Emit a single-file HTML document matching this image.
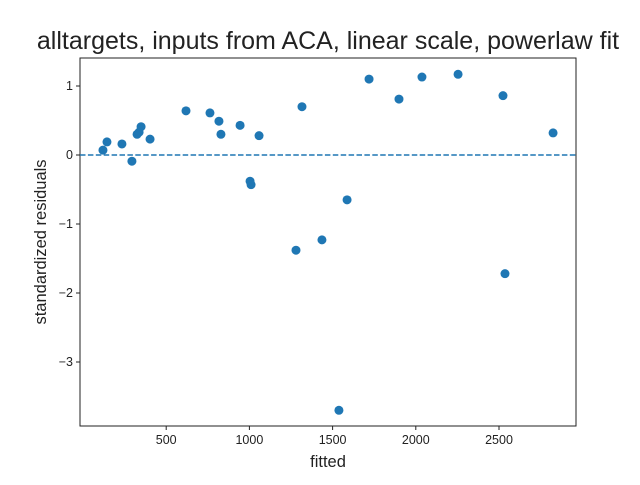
<!DOCTYPE html>
<html><head><meta charset="utf-8"><style>
body{margin:0;background:#fff}
svg text{font-family:"Liberation Sans",Arial,sans-serif}
</style></head><body>
<svg id="chart" width="640" height="480" xmlns="http://www.w3.org/2000/svg">
<text x="328" y="49" text-anchor="middle" font-size="25" fill="#222">alltargets, inputs from ACA, linear scale, powerlaw fit</text>
<g id="plot"></g>
<text x="328" y="467" text-anchor="middle" font-size="16.5" fill="#222">fitted</text>
<text transform="translate(46,242) rotate(-90)" text-anchor="middle" font-size="16.5" fill="#222">standardized residuals</text>
</svg>
<script>
const xVals=[120,144,234,294,325,337,349,403,619,763,817,829,944,1004,1010,1058,1280,1316,1436,1538,1587,1719,1899,2037,2254,2524,2536,2825];
const yVals=[0.07,0.19,0.16,-0.09,0.30,0.33,0.41,0.23,0.64,0.61,0.49,0.30,0.43,-0.38,-0.43,0.28,-1.38,0.70,-1.23,-3.70,-0.65,1.10,0.81,1.13,1.17,0.86,-1.72,0.32];
const xTicks=[500,1000,1500,2000,2500];
const yTicks=[1,0,-1,-2,-3];
const L=80,R=576,T=58,B=426;
const sx=v=>83+v*0.1664;
const sy=v=>155-v*69;
const NS="http://www.w3.org/2000/svg";
const g=document.getElementById('plot');
function mk(t,a){const e=document.createElementNS(NS,t);for(const k in a)e.setAttribute(k,a[k]);g.appendChild(e);return e;}
const f=mk('rect',{x:L,y:T,width:R-L,height:B-T,fill:'none',stroke:'#222','stroke-width':1});


const zl=mk('line',{x1:L,x2:R,y1:sy(0),y2:sy(0),stroke:'#1f77b4','stroke-width':1.5,'stroke-dasharray':'5.5,2.4'});


xTicks.forEach(v=>{
 const t=mk('line',{x1:sx(v),x2:sx(v),y1:B,y2:B+4,stroke:'#222'});
 
 
 const l=mk('text',{x:sx(v),y:B+18,'text-anchor':'middle','font-size':12.5,fill:'#222'});
 l.textContent=v;
 
 
});
yTicks.forEach(v=>{
 const t=mk('line',{x1:L-4,x2:L,y1:sy(v),y2:sy(v),stroke:'#222'});
 
 
 const l=mk('text',{x:L-7,y:sy(v)+4,'text-anchor':'end','font-size':12.5,fill:'#222'});
 l.textContent=v<0?'\u2212'+(-v):v;
 
 
});
xVals.forEach((x,i)=>{
 const c=mk('circle',{cx:sx(x),cy:sy(yVals[i]),r:4.5,fill:'#1f77b4'});
 
 
});
</script>
</body></html>
